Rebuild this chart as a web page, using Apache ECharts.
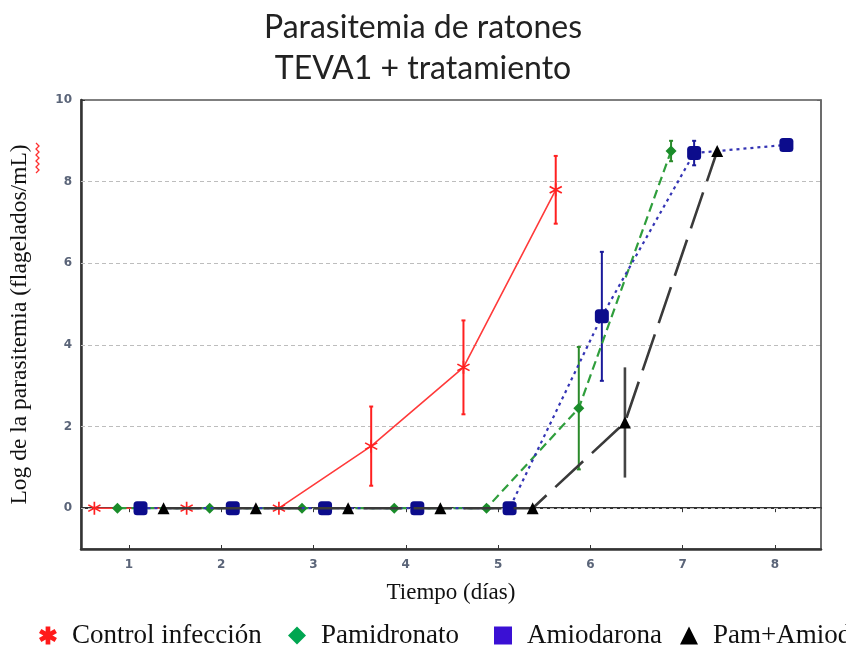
<!DOCTYPE html>
<html>
<head>
<meta charset="utf-8">
<style>
  html, body { margin: 0; padding: 0; background: #fff; }
  #chart { width: 846px; height: 649px; }
</style>
<script src="https://cdn.jsdelivr.net/npm/echarts@6/dist/echarts.min.js"></script>
</head>
<body>
<div id="chart"></div>
<script>
// Log parasitemia per day (mean and half error bar) for each group
const seriesNames = ['Control infección', 'Pamidronato', 'Amiodarona', 'Pam+Amiod'];
const days = [1, 2, 3, 4, 5, 6, 7, 8];
const controlLog = [0, 0, 0, 1.52, 3.45, 7.8];
const controlErr = [0, 0, 0, 0.97, 1.15, 0.83];
const pamLog = [0, 0, 0, 0, 0, 2.45, 8.75];
const pamErr = [0, 0, 0, 0, 0, 1.5, 0.25];
const amioLog = [0, 0, 0, 0, 0, 4.7, 8.7, 8.9];
const amioErr = [0, 0, 0, 0, 0, 1.58, 0.3, 0];
const pamAmioLog = [0, 0, 0, 0, 0, 2.1, 8.75];
const pamAmioErr = [0, 0, 0, 0, 0, 1.35, 0];
const yTicks = [0, 2, 4, 6, 8, 10];
const gridLines = [0, 2, 4, 6, 8];

// groups are dodged around each day
const dodge = [-0.375, -0.125, 0.125, 0.375];

const asteriskThin = 'path://M4.4,0 L5.6,0 L5.6,10 L4.4,10 Z M0.97,1.98 L9.63,6.98 L9.03,8.02 L0.37,3.02 Z M0.37,6.98 L9.03,1.98 L9.63,3.02 L0.97,8.02 Z';
const asteriskBold = 'path://M3.7,0 L6.3,0 L6.3,10 L3.7,10 Z M1.32,1.37 L9.98,6.37 L8.68,8.63 L0.02,3.63 Z M0.02,6.37 L8.68,1.37 L9.98,3.63 L1.32,8.63 Z';

function points(vals, k) {
  return vals.map((v, i) => [days[i] + dodge[k], v]);
}
function bars(vals, errs, k) {
  return vals.map((v, i) => [days[i] + dodge[k], v - errs[i], v + errs[i]]).filter((d, i) => errs[i] > 0);
}

function errorBarSeries(data, color, width, cap) {
  return {
    type: 'custom',
    data: data,
    z: 3,
    silent: true,
    renderItem: function (params, api) {
      const x = api.value(0);
      const lo = api.coord([x, api.value(1)]);
      const hi = api.coord([x, api.value(2)]);
      const style = { stroke: color, lineWidth: width, fill: null };
      const children = [
        { type: 'line', shape: { x1: lo[0], y1: lo[1], x2: hi[0], y2: hi[1] }, style: style }
      ];
      if (cap > 0) {
        children.push({ type: 'line', shape: { x1: lo[0] - cap, y1: lo[1], x2: lo[0] + cap, y2: lo[1] }, style: style });
        children.push({ type: 'line', shape: { x1: hi[0] - cap, y1: hi[1], x2: hi[0] + cap, y2: hi[1] }, style: style });
      }
      return { type: 'group', children: children };
    }
  };
}

const serif = '"Liberation Serif", "Times New Roman", serif';
const tickLabel = { show: true, fontSize: 12, fontWeight: 'bold', color: '#5a6478', fontFamily: 'DejaVu Sans' };

const chart = echarts.init(document.getElementById('chart'), null, { renderer: 'canvas' });

function legendItem(name, icon, color, left) {
  return {
    data: [{ name: name, icon: icon, itemStyle: { color: color } }],
    left: left,
    top: 617,
    itemWidth: 18,
    itemHeight: 18,
    selectedMode: false,
    textStyle: { fontFamily: serif, fontSize: 27, color: '#111', padding: [0, 0, 0, 10] }
  };
}

chart.setOption({
  animation: false,
  backgroundColor: '#fff',
  title: {
    text: 'Parasitemia de ratones\nTEVA1 + tratamiento',
    left: 'center',
    top: 2,
    textStyle: { fontFamily: 'Lato', fontSize: 32, fontWeight: 'normal', color: '#222', lineHeight: 41 }
  },
  legend: [
    legendItem(seriesNames[0], asteriskBold, '#ff1a1a', 34),
    legendItem(seriesNames[1], 'diamond', '#00a651', 283),
    legendItem(seriesNames[2], 'rect', '#3a10d4', 489),
    legendItem(seriesNames[3], 'triangle', '#000000', 675)
  ],
  grid: { left: 80, right: 25, top: 100, bottom: 100, show: true, borderColor: '#555', borderWidth: 1.5 },
  xAxis: [{
    type: 'value', min: 0.48, max: 8.5,
    name: 'Tiempo (días)', nameLocation: 'middle', nameGap: 32,
    nameTextStyle: { fontFamily: serif, fontSize: 23, color: '#111' },
    axisLine: { show: true, onZero: false, lineStyle: { color: '#333', width: 2.5 } },
    axisTick: { show: true, inside: true, length: 4, customValues: days, lineStyle: { color: '#333' } },
    axisLabel: Object.assign({ customValues: days, margin: 10 }, tickLabel),
    splitLine: { show: false }
  }, {
    type: 'value', min: 0.48, max: 8.5, position: 'top',
    axisLine: { show: true, lineStyle: { color: '#333', width: 2 } },
    axisTick: { show: true, inside: true, length: 4, customValues: days, lineStyle: { color: '#333' } },
    axisLabel: { show: false },
    splitLine: { show: false }
  }],
  yAxis: [{
    type: 'value', min: -1, max: 10,
    name: 'Log de la parasitemia (flagelados/mL)', nameLocation: 'middle', nameGap: 49, nameRotate: 90,
    nameTextStyle: { fontFamily: serif, fontSize: 23.5, color: '#111' },
    axisLine: { show: true, onZero: false, lineStyle: { color: '#333', width: 2.5 } },
    axisTick: { show: true, inside: true, length: 4, customValues: yTicks, lineStyle: { color: '#333' } },
    axisLabel: Object.assign({ customValues: yTicks, margin: 9 }, tickLabel),
    splitLine: { show: false }
  }, {
    type: 'value', min: -1, max: 10, position: 'right',
    axisLine: { show: true, lineStyle: { color: '#666', width: 1.5 } },
    axisTick: { show: true, inside: true, length: 4, customValues: yTicks, lineStyle: { color: '#666' } },
    axisLabel: { show: false },
    splitLine: { show: false }
  }],
  graphic: [{
    type: 'polyline',
    shape: { points: [[36, 143], [39, 146], [36, 149], [39, 152], [36, 155], [39, 158], [36, 161], [39, 164], [36, 167], [39, 170], [36, 173]] },
    style: { stroke: '#ff3030', lineWidth: 1.3, fill: null }
  }],
  series: [
    {
      name: seriesNames[0], type: 'line', data: points(controlLog, 0), z: 4,
      symbol: asteriskThin, symbolSize: 13,
      itemStyle: { color: '#ff2020' },
      lineStyle: { color: '#ff3a3a', width: 1.6 },
      markLine: {
        silent: true, symbol: 'none', label: { show: false }, z: 1,
        lineStyle: { color: '#bdbdbd', type: [4, 3], width: 1 },
        data: gridLines.map(v => ({ yAxis: v }))
      }
    },
    {
      name: seriesNames[1], type: 'line', data: points(pamLog, 1), z: 5,
      symbol: 'diamond', symbolSize: 11,
      itemStyle: { color: '#1a8c2a' },
      lineStyle: { color: '#2f9e3c', width: 2.2, type: [9, 5] }
    },
    {
      name: seriesNames[2], type: 'line', data: points(amioLog, 2), z: 6,
      symbol: 'roundRect', symbolSize: 14,
      itemStyle: { color: '#0c0c8c' },
      lineStyle: { color: '#3434b4', width: 2.2, type: [3, 4] }
    },
    {
      name: seriesNames[3], type: 'line', data: points(pamAmioLog, 3), z: 7,
      symbol: 'triangle', symbolSize: 12,
      itemStyle: { color: '#000' },
      lineStyle: { color: '#3a3a3a', width: 2.6, type: [38, 12] }
    },
    errorBarSeries(bars(controlLog, controlErr, 0), '#ff2020', 2, 2),
    errorBarSeries(bars(pamLog, pamErr, 1), '#2a8a2a', 2, 2),
    errorBarSeries(bars(amioLog, amioErr, 2), '#1a1a9a', 2, 2),
    errorBarSeries(bars(pamAmioLog, pamAmioErr, 3), '#444', 2.6, 0)
  ]
});
</script>
</body>
</html>
